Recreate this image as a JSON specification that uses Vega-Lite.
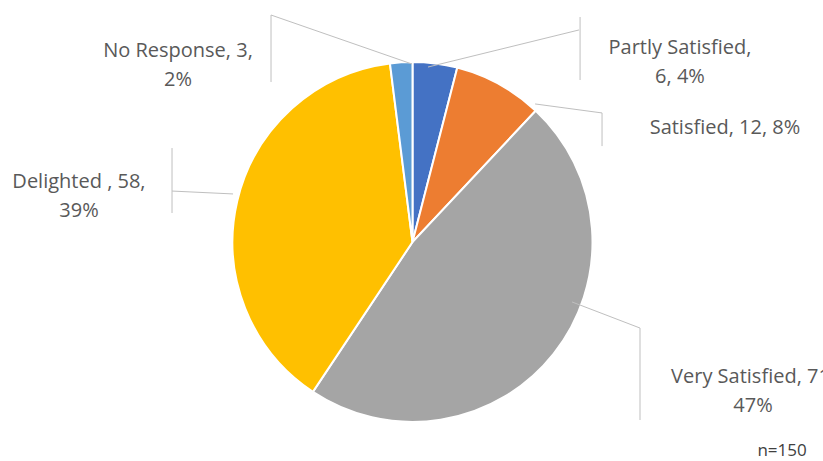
{
  "$schema": "https://vega.github.io/schema/vega-lite/v6.json",
  "width": 821,
  "height": 438,
  "autosize": {"type": "none"},
  "padding": {"left": 2, "top": 23, "right": 0, "bottom": 0},
  "background": "white",
  "config": {"view": {"stroke": null}},
  "datasets": {
    "slices": [
      {"category": "Partly Satisfied", "count": 6, "ord": 1},
      {"category": "Satisfied", "count": 12, "ord": 2},
      {"category": "Very Satisfied", "count": 71, "ord": 3},
      {"category": "Delighted", "count": 58, "ord": 4},
      {"category": "No Response", "count": 3, "ord": 5}
    ],
    "leaders": [
      {"x": -0.003, "y": 0.989, "x2": -0.786, "y2": 1.261},
      {"x": -0.786, "y": 1.261, "x2": -0.786, "y2": 0.889},
      {"x": 0.086, "y": 0.972, "x2": 0.925, "y2": 1.178},
      {"x": 0.931, "y": 1.25, "x2": 0.931, "y2": 0.9},
      {"x": 0.681, "y": 0.767, "x2": 1.053, "y2": 0.717},
      {"x": 1.053, "y": 0.717, "x2": 1.053, "y2": 0.533},
      {"x": 0.886, "y": -0.333, "x2": 1.264, "y2": -0.478},
      {"x": 1.264, "y": -0.478, "x2": 1.264, "y2": -0.989},
      {"x": -0.997, "y": 0.267, "x2": -1.336, "y2": 0.283},
      {"x": -1.336, "y": 0.522, "x2": -1.336, "y2": 0.161}
    ],
    "labels": [
      {"text": "No Response, 3,\n2%", "x": -1.303, "y": 1.061},
      {"text": "Partly Satisfied,\n6, 4%", "x": 1.486, "y": 1.078},
      {"text": "Satisfied, 12, 8%", "x": 1.736, "y": 0.633},
      {"text": "Very Satisfied, 71,\n47%", "x": 1.892, "y": -0.75},
      {"text": "Delighted , 58,\n39%", "x": -1.853, "y": 0.333}
    ],
    "note": [
      {"text": "n=150", "x": 2.053, "y": -1.16}
    ]
  },
  "layer": [
    {
      "data": {"name": "slices"},
      "mark": {"type": "arc", "outerRadius": 180, "stroke": "white", "strokeWidth": 2},
      "encoding": {
        "theta": {"field": "count", "type": "quantitative", "stack": true},
        "order": {"field": "ord", "type": "quantitative"},
        "color": {
          "field": "category",
          "type": "nominal",
          "scale": {
            "domain": ["Partly Satisfied", "Satisfied", "Very Satisfied", "Delighted", "No Response"],
            "range": ["#4472C4", "#ED7D31", "#A5A5A5", "#FFC000", "#5B9BD5"]
          },
          "legend": null
        }
      }
    },
    {
      "data": {"name": "leaders"},
      "mark": {"type": "rule", "color": "#BFBFBF", "strokeWidth": 1},
      "encoding": {
        "x": {"field": "x", "type": "quantitative", "scale": {"domain": [-2.2806, 2.2806], "nice": false, "zero": false}, "axis": null},
        "y": {"field": "y", "type": "quantitative", "scale": {"domain": [-1.2167, 1.2167], "nice": false, "zero": false}, "axis": null},
        "x2": {"field": "x2"},
        "y2": {"field": "y2"}
      }
    },
    {
      "data": {"name": "labels"},
      "mark": {"type": "text", "font": "Open Sans", "fontSize": 20, "color": "#595959", "align": "center", "baseline": "middle", "lineBreak": "\n", "lineHeight": 29},
      "encoding": {
        "x": {"field": "x", "type": "quantitative", "scale": {"domain": [-2.2806, 2.2806], "nice": false, "zero": false}, "axis": null},
        "y": {"field": "y", "type": "quantitative", "scale": {"domain": [-1.2167, 1.2167], "nice": false, "zero": false}, "axis": null},
        "text": {"field": "text", "type": "nominal"}
      }
    },
    {
      "data": {"name": "note"},
      "mark": {"type": "text", "font": "Open Sans", "fontSize": 17, "color": "#404040", "align": "center", "baseline": "middle"},
      "encoding": {
        "x": {"field": "x", "type": "quantitative", "scale": {"domain": [-2.2806, 2.2806], "nice": false, "zero": false}, "axis": null},
        "y": {"field": "y", "type": "quantitative", "scale": {"domain": [-1.2167, 1.2167], "nice": false, "zero": false}, "axis": null},
        "text": {"field": "text", "type": "nominal"}
      }
    }
  ]
}
